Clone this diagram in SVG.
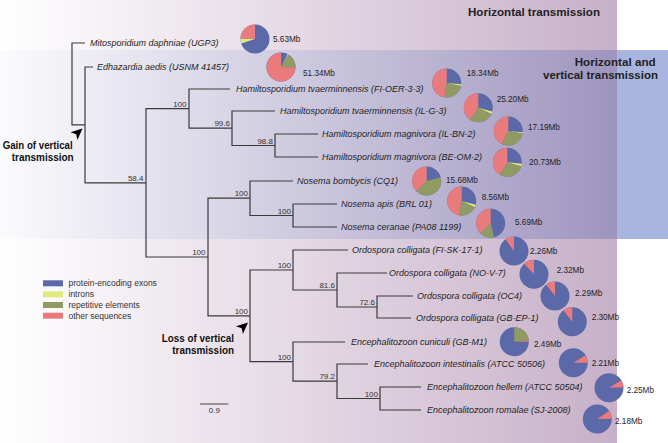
<svg xmlns="http://www.w3.org/2000/svg" width="668" height="443" viewBox="0 0 668 443">
<defs>
<linearGradient id="gp" x1="0" y1="0" x2="617" y2="0" gradientUnits="userSpaceOnUse">
<stop offset="0" stop-color="#ffffff"/><stop offset="1" stop-color="#c7b0c8"/>
</linearGradient>
<linearGradient id="gb" x1="0" y1="0" x2="617" y2="0" gradientUnits="userSpaceOnUse">
<stop offset="0" stop-color="#fbfbfd"/><stop offset="1" stop-color="#9e95bf"/>
</linearGradient>
<path id="dart" d="M0,0 L-11.5,-5.2 L-8.5,0 L-11.5,5.2 Z"/>
</defs>
<style>
text{font-family:"Liberation Sans",Arial,sans-serif}
.tip{font-style:italic;font-size:9px;fill:#1e1e1e}
.sz{font-size:8.2px;fill:#1e1e1e}
.sup{font-size:8px;fill:#333;text-anchor:end}
.hdr{font-weight:bold;font-size:11.5px;fill:#222}
.evt{font-weight:bold;font-size:10px;fill:#111}
.leg{font-size:8.5px;fill:#333}
.tree{fill:none;stroke:#3a3a3a;stroke-width:1.2}
.b{fill:#5b69a8}
.y{fill:none;stroke:#e0ea7c;stroke-width:14.5}
.g{fill:none;stroke:#8f9b63;stroke-width:14.5}
.r{fill:none;stroke:#ea7b7c;stroke-width:14.5}
</style>

<g id="background">
<rect x="0" y="0" width="617" height="443" fill="url(#gp)"/>
<rect x="0" y="50" width="617" height="189" fill="url(#gb)"/>
<rect x="617" y="50" width="51" height="189" fill="#a8b5de"/>
</g>

<g id="headers">
<text class="hdr" x="468" y="16.4" textLength="132" lengthAdjust="spacingAndGlyphs">Horizontal transmission</text>
<text class="hdr" x="574.7" y="65.7" textLength="81" lengthAdjust="spacingAndGlyphs">Horizontal and</text>
<text class="hdr" x="543" y="79" textLength="115" lengthAdjust="spacingAndGlyphs">vertical transmission</text>
</g>

<g id="connectors">
<path class="tree" d="M85,43 H72 V124.9 H85 M93,67 H85 V182.8 H146 M189,108.6 H146 V257 H208 M230,89 H189 V128.2 H232 M275,111 H232 V145.5 H275 M318,134 H275 V157 H318 M250,198.2 H208 V315.8 H250 M293,181 H250 V215.5 H293 M337,204 H293 V227 H337 M293,270 H250 V361.6 H293 M348,250 H293 V290 H337 M387,273 H337 V307 H377 M413,296 H377 V318 H411 M345,342 H293 V381.2 H337 M368,364 H337 V398.5 H380 M421,387 H380 V410 H421"/>
</g>

<g id="support">
<text class="sup" x="143.5" y="181">58.4</text>
<text class="sup" x="186.5" y="106.5">100</text>
<text class="sup" x="230" y="126.2">99.6</text>
<text class="sup" x="273" y="143.5">98.8</text>
<text class="sup" x="205.5" y="255">100</text>
<text class="sup" x="248" y="196.2">100</text>
<text class="sup" x="291" y="213.5">100</text>
<text class="sup" x="248" y="313.8">100</text>
<text class="sup" x="291" y="268">100</text>
<text class="sup" x="335" y="288">81.6</text>
<text class="sup" x="375" y="305">72.6</text>
<text class="sup" x="291" y="359.6">100</text>
<text class="sup" x="335" y="379.2">79.2</text>
<text class="sup" x="378" y="396.5">100</text>
</g>

<g id="events">
<use href="#dart" transform="translate(82.5,128.5) rotate(-42)"/>
<text class="evt" x="2.7" y="149.3" textLength="70" lengthAdjust="spacingAndGlyphs">Gain of vertical</text>
<text class="evt" x="11.7" y="161" textLength="62" lengthAdjust="spacingAndGlyphs">transmission</text>
<use href="#dart" transform="translate(248,322.5) rotate(-42)"/>
<text class="evt" x="161.7" y="341.9" textLength="72.3" lengthAdjust="spacingAndGlyphs">Loss of vertical</text>
<text class="evt" x="172.3" y="354.3" textLength="61.7" lengthAdjust="spacingAndGlyphs">transmission</text>
</g>

<g id="t1"><text class="tip" x="90" y="46.3">Mitosporidium daphniae (UGP3)</text>
<g transform="translate(255,39) rotate(-90)"><circle class="b" r="14.5"/><circle class="y" r="7.25" stroke-dasharray="2.531 100" stroke-dashoffset="-31.634"/><circle class="r" r="7.25" stroke-dasharray="11.388 100" stroke-dashoffset="-34.165"/></g>
<text class="sz" x="273" y="41.5">5.63Mb</text></g>

<g id="t2"><text class="tip" x="97" y="70.3">Edhazardia aedis (USNM 41457)</text>
<g transform="translate(281,67) rotate(-90)"><circle class="b" r="14.5"/><circle class="y" r="7.25" stroke-dasharray="0.506 100" stroke-dashoffset="-3.543"/><circle class="g" r="7.25" stroke-dasharray="7.592 100" stroke-dashoffset="-4.049"/><circle class="r" r="7.25" stroke-dasharray="33.912 100" stroke-dashoffset="-11.641"/></g>
<text class="sz" x="303" y="76">51.34Mb</text></g>

<g id="t3"><text class="tip" x="236" y="92.3">Hamiltosporidium tvaerminnensis (FI-OER-3-3)</text>
<g transform="translate(446.7,83) rotate(-90)"><circle class="b" r="14.5"/><circle class="y" r="7.25" stroke-dasharray="0.886 100" stroke-dashoffset="-12.021"/><circle class="g" r="7.25" stroke-dasharray="10.882 100" stroke-dashoffset="-12.907"/><circle class="r" r="7.25" stroke-dasharray="21.764 100" stroke-dashoffset="-23.789"/></g>
<text class="sz" x="466.7" y="75.8">18.34Mb</text></g>

<g id="t4"><text class="tip" x="280" y="114.3">Hamiltosporidium tvaerminnensis (IL-G-3)</text>
<g transform="translate(478.3,107.7) rotate(-90)"><circle class="b" r="14.5"/><circle class="y" r="7.25" stroke-dasharray="1.265 100" stroke-dashoffset="-13.286"/><circle class="g" r="7.25" stroke-dasharray="12.654 100" stroke-dashoffset="-14.552"/><circle class="r" r="7.25" stroke-dasharray="18.348 100" stroke-dashoffset="-27.205"/></g>
<text class="sz" x="496.7" y="101.5">25.20Mb</text></g>

<g id="t5"><text class="tip" x="322" y="137.3">Hamiltosporidium magnivora (IL-BN-2)</text>
<g transform="translate(508.3,131) rotate(-90)"><circle class="b" r="14.5"/><circle class="y" r="7.25" stroke-dasharray="0.633 100" stroke-dashoffset="-12.021"/><circle class="g" r="7.25" stroke-dasharray="13.286 100" stroke-dashoffset="-12.654"/><circle class="r" r="7.25" stroke-dasharray="19.613 100" stroke-dashoffset="-25.940"/></g>
<text class="sz" x="528" y="129.5">17.19Mb</text></g>

<g id="t6"><text class="tip" x="322" y="160.3">Hamiltosporidium magnivora (BE-OM-2)</text>
<g transform="translate(507.3,162.3) rotate(-90)"><circle class="b" r="14.5"/><circle class="y" r="7.25" stroke-dasharray="1.265 100" stroke-dashoffset="-12.021"/><circle class="g" r="7.25" stroke-dasharray="13.286 100" stroke-dashoffset="-13.286"/><circle class="r" r="7.25" stroke-dasharray="18.980 100" stroke-dashoffset="-26.573"/></g>
<text class="sz" x="529" y="164.5">20.73Mb</text></g>

<g id="t7"><text class="tip" x="297" y="184.3">Nosema bombycis (CQ1)</text>
<g transform="translate(426.7,181) rotate(-90)"><circle class="b" r="14.5"/><circle class="g" r="7.25" stroke-dasharray="18.980 100" stroke-dashoffset="-9.490"/><circle class="r" r="7.25" stroke-dasharray="17.082 100" stroke-dashoffset="-28.471"/></g>
<text class="sz" x="446" y="182.5">15.68Mb</text></g>

<g id="t8"><text class="tip" x="341" y="207.3">Nosema apis (BRL 01)</text>
<g transform="translate(461.7,201) rotate(-90)"><circle class="b" r="14.5"/><circle class="y" r="7.25" stroke-dasharray="1.265 100" stroke-dashoffset="-13.286"/><circle class="g" r="7.25" stroke-dasharray="9.490 100" stroke-dashoffset="-14.552"/><circle class="r" r="7.25" stroke-dasharray="21.511 100" stroke-dashoffset="-24.042"/></g>
<text class="sz" x="481.7" y="199.5">8.56Mb</text></g>

<g id="t9"><text class="tip" x="341" y="230.3">Nosema ceranae (PA08 1199)</text>
<g transform="translate(490.7,223.3) rotate(-90)"><circle class="b" r="14.5"/><circle class="g" r="7.25" stroke-dasharray="7.592 100" stroke-dashoffset="-20.878"/><circle class="r" r="7.25" stroke-dasharray="17.082 100" stroke-dashoffset="-28.471"/></g>
<text class="sz" x="515" y="224.5">5.69Mb</text></g>

<g id="t10"><text class="tip" x="352" y="253.3">Ordospora colligata (FI-SK-17-1)</text>
<g transform="translate(514,251) rotate(-90)"><circle class="b" r="14.5"/><circle class="r" r="7.25" stroke-dasharray="4.808 100" stroke-dashoffset="-40.745"/></g>
<text class="sz" x="530" y="253.5">2.26Mb</text></g>

<g id="t11"><text class="tip" x="389" y="276.3">Ordospora colligata (NO-V-7)</text>
<g transform="translate(534,274.3) rotate(-90)"><circle class="b" r="14.5"/><circle class="r" r="7.25" stroke-dasharray="5.694 100" stroke-dashoffset="-39.859"/></g>
<text class="sz" x="556.7" y="272.5">2.32Mb</text></g>

<g id="t12"><text class="tip" x="417" y="299.3">Ordospora colligata (OC4)</text>
<g transform="translate(555,296) rotate(-90)"><circle class="b" r="14.5"/><circle class="r" r="7.25" stroke-dasharray="5.061 100" stroke-dashoffset="-40.492"/></g>
<text class="sz" x="575" y="295.5">2.29Mb</text></g>

<g id="t13"><text class="tip" x="416" y="321.3">Ordospora colligata (GB-EP-1)</text>
<g transform="translate(572.3,321.7) rotate(-90)"><circle class="b" r="14.5"/><circle class="r" r="7.25" stroke-dasharray="5.061 100" stroke-dashoffset="-40.492"/></g>
<text class="sz" x="591.7" y="319.5">2.30Mb</text></g>

<g id="t14"><text class="tip" x="351" y="345.3">Encephalitozoon cuniculi (GB-M1)</text>
<g transform="translate(514.3,341.7) rotate(-90)"><circle class="b" r="14.5"/><circle class="g" r="7.25" stroke-dasharray="10.756 100" stroke-dashoffset="0"/><circle class="r" r="7.25" stroke-dasharray="0.633 100" stroke-dashoffset="-10.756"/></g>
<text class="sz" x="534" y="346.5">2.49Mb</text></g>

<g id="t15"><text class="tip" x="374" y="367.3">Encephalitozoon intestinalis (ATCC 50506)</text>
<g transform="translate(573.3,362.7) rotate(-90)"><circle class="b" r="14.5"/><circle class="r" r="7.25" stroke-dasharray="4.049 100" stroke-dashoffset="-7.339"/></g>
<text class="sz" x="591.7" y="365.5">2.21Mb</text></g>

<g id="t16"><text class="tip" x="427" y="390.3">Encephalitozoon hellem (ATCC 50504)</text>
<g transform="translate(609,387.7) rotate(-90)"><circle class="b" r="14.5"/><circle class="r" r="7.25" stroke-dasharray="3.796 100" stroke-dashoffset="-7.339"/></g>
<text class="sz" x="626.7" y="392.5">2.25Mb</text></g>

<g id="t17"><text class="tip" x="427" y="413.3">Encephalitozoon romalae (SJ-2008)</text>
<g transform="translate(597.3,419) rotate(-90)"><circle class="b" r="14.5"/><circle class="r" r="7.25" stroke-dasharray="4.176 100" stroke-dashoffset="-6.959"/></g>
<text class="sz" x="615" y="423.5">2.18Mb</text></g>

<g id="legend">
<rect x="43" y="280.3" width="20" height="6" fill="#5b69a8"/>
<rect x="43" y="291.3" width="20" height="6" fill="#e0ea7c"/>
<rect x="43" y="302" width="20" height="6" fill="#8f9b63"/>
<rect x="43" y="312.7" width="20" height="6" fill="#ea7b7c"/>
<text class="leg" x="68.5" y="286.3">protein-encoding exons</text>
<text class="leg" x="68.5" y="297.3">introns</text>
<text class="leg" x="68.5" y="308">repetitive elements</text>
<text class="leg" x="68.5" y="318.7">other sequences</text>
</g>

<g id="scale">
<line x1="200" y1="404" x2="228.3" y2="404" stroke="#444" stroke-width="1"/>
<text class="sup" x="214.3" y="413" style="text-anchor:middle">0.9</text>
</g>
</svg>
